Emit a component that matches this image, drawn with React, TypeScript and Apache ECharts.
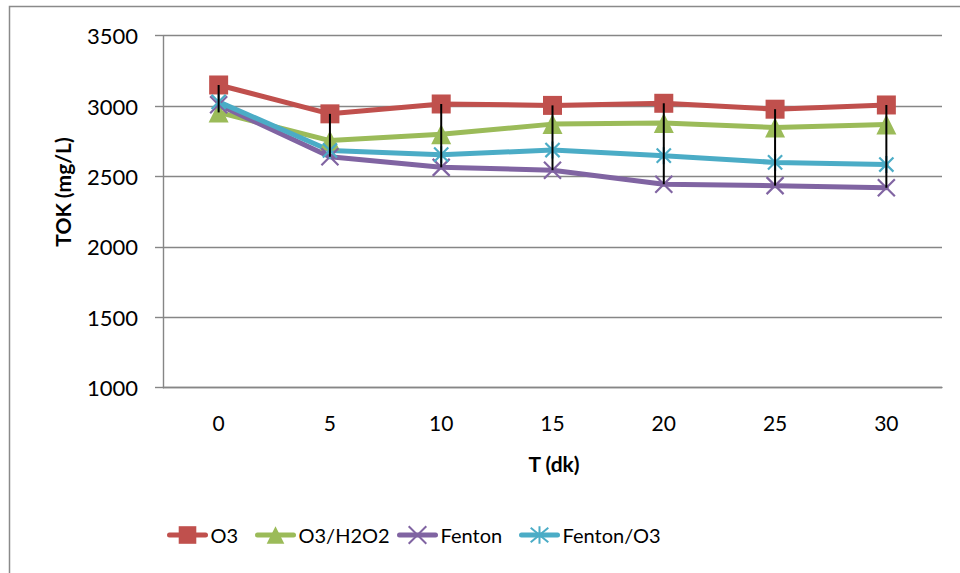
import React, { useEffect, useRef } from "react";
import * as echarts from "echarts";

// Reaction time (dk) categories
const categories = ["0", "5", "10", "15", "20", "25", "30"];

// TOK values (mg/L) per process
const o3 = [3150, 2945, 3015, 3005, 3020, 2978, 3008];
const o3h2o2 = [2955, 2755, 2800, 2872, 2880, 2848, 2870];
const fenton = [3010, 2640, 2565, 2545, 2445, 2435, 2420];
const fentonO3 = [3030, 2685, 2655, 2688, 2648, 2600, 2585];

const seriesNames = ["O3", "O3/H2O2", "Fenton", "Fenton/O3"];
const seriesColors = ["#C0504D", "#9BBB59", "#8064A2", "#4BACC6"];
// left edge of each legend entry
const legendLefts = [167, 255, 397, 519];

const yMin = 1000;
const yMax = 3500;
const yStep = 500;

const FONT = "Lato, 'Open Sans', sans-serif";
const GRID_GRAY = "#868686";

const crossSymbol = "path://M0,0L10,10M10,0L0,10";
const starSymbol = "path://M0,0L10,10M10,0L0,10M5,-1L5,11";

export default function App() {
  const ref = useRef<HTMLDivElement>(null);

  useEffect(() => {
    if (!ref.current) return;
    const chart = echarts.init(ref.current, null, { renderer: "svg" });

    const all = [o3, o3h2o2, fenton, fentonO3];
    // high-low span for each time point
    const hiLo = categories.map((_, i) => {
      const vals = all.map((s) => s[i]);
      return [i, Math.max(...vals), Math.min(...vals)];
    });

    const lineSeries = (
      name: string,
      data: number[],
      color: string,
      symbol: string,
      symbolSize: number,
      strokeOnly: boolean
    ) => ({
      type: "line",
      name,
      data,
      symbol,
      symbolSize,
      symbolKeepAspect: true,
      showAllSymbol: true,
      lineStyle: { color, width: 5, cap: "round", join: "round" },
      itemStyle: strokeOnly
        ? { color, borderColor: color, borderWidth: 2.2 }
        : { color, borderWidth: 0 },
      z: 2,
    });

    chart.setOption({
      animation: false,
      backgroundColor: "#ffffff",
      textStyle: { fontFamily: FONT },
      grid: {
        left: 163,
        right: 18,
        top: 35.7,
        bottom: 185.3,
        containLabel: false,
        outerBoundsMode: "none",
      },
      xAxis: {
        type: "category",
        data: categories,
        boundaryGap: true,
        axisLine: { show: true, lineStyle: { color: GRID_GRAY, width: 1.4 } },
        axisTick: { show: false },
        axisLabel: {
          color: "#000",
          fontSize: 21,
          fontFamily: FONT,
          margin: 24,
        },
        splitLine: { show: false },
      },
      yAxis: {
        type: "value",
        min: yMin,
        max: yMax,
        interval: yStep,
        axisLine: { show: true, lineStyle: { color: GRID_GRAY, width: 1.4 } },
        axisTick: {
          show: true,
          inside: false,
          length: 8,
          lineStyle: { color: GRID_GRAY, width: 1.4 },
        },
        axisLabel: {
          color: "#000",
          fontSize: 22,
          fontFamily: FONT,
          margin: 25,
          formatter: (v: number) => String(v),
        },
        splitLine: { show: true, lineStyle: { color: GRID_GRAY, width: 1.4 } },
      },
      legend: seriesNames.map((name, i) => ({
        data: [name],
        left: legendLefts[i],
        top: 525,
        padding: 0,
        itemWidth: 36,
        itemHeight: 22,
        lineStyle: { width: 5, cap: "round" },
        textStyle: { color: "#000", fontSize: 20, fontFamily: FONT },
      })),
      graphic: [
        {
          type: "rect",
          silent: true,
          shape: { x: 9.5, y: 6.5, width: 1000, height: 1000 },
          style: { fill: "none", stroke: "#8a8a8a", lineWidth: 1.5 },
        },
        {
          type: "text",
          x: 62,
          y: 192,
          rotation: Math.PI / 2,
          style: {
            text: "TOK (mg/L)",
            font: `bold 21px ${FONT}`,
            fill: "#000",
            align: "center",
            verticalAlign: "middle",
          },
        },
        {
          type: "text",
          x: 554,
          y: 463,
          style: {
            text: "T (dk)",
            font: `bold 21px ${FONT}`,
            fill: "#000",
            align: "center",
            verticalAlign: "middle",
          },
        },
      ],
      series: [
        lineSeries(seriesNames[0], o3, seriesColors[0], "rect", 19, false),
        lineSeries(seriesNames[1], o3h2o2, seriesColors[1], "triangle", 20, false),
        lineSeries(seriesNames[2], fenton, seriesColors[2], crossSymbol, 17, true),
        lineSeries(seriesNames[3], fentonO3, seriesColors[3], starSymbol, 17, true),
        {
          type: "custom",
          name: "hiLo",
          data: hiLo,
          encode: { x: 0, y: [1, 2] },
          z: 5,
          silent: true,
          renderItem: (_params: any, api: any) => {
            const top = api.coord([api.value(0), api.value(1)]);
            const bot = api.coord([api.value(0), api.value(2)]);
            return {
              type: "line",
              shape: { x1: top[0], y1: top[1], x2: bot[0], y2: bot[1] },
              style: { stroke: "#000", lineWidth: 2 },
            };
          },
        },
      ],
    });

    return () => chart.dispose();
  }, []);

  return (
    <div
      ref={ref}
      style={{
        position: "absolute",
        left: 0,
        top: 0,
        width: 960,
        height: 573,
        background: "#fff",
      }}
    />
  );
}
